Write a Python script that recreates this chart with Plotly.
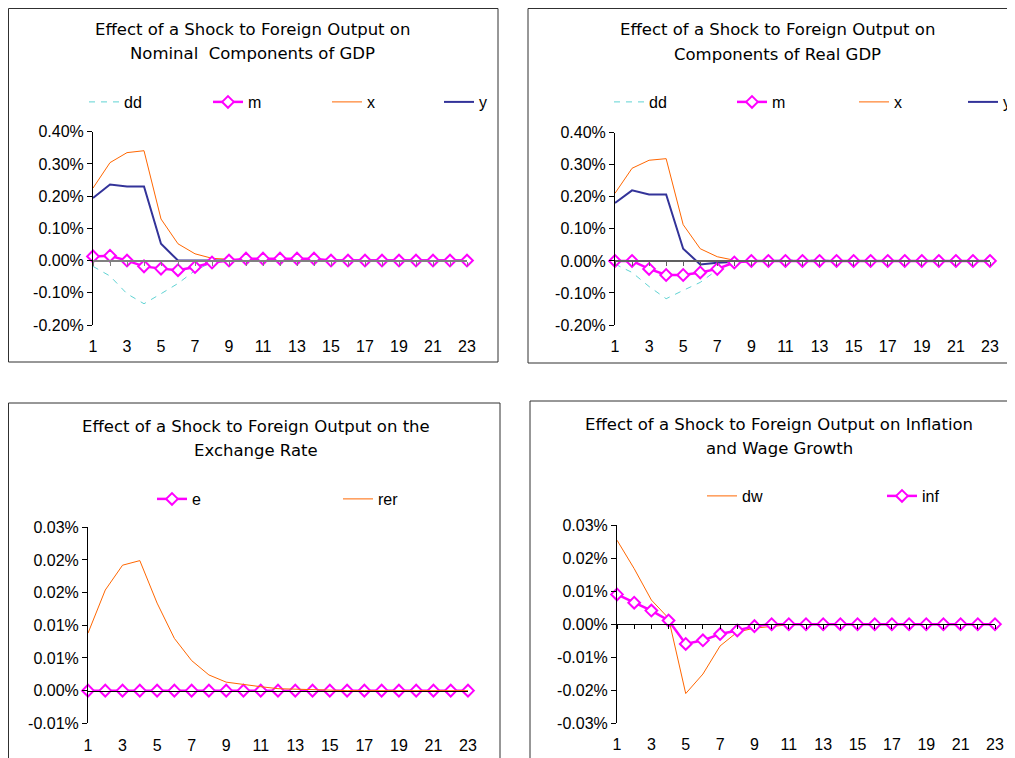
import plotly.graph_objects as go

# the page keeps an 8px body margin, so the figure is drawn 8px in from the window corner
PAGE_OFF = 8
W, H = 1015 - PAGE_OFF, 758 - PAGE_OFF

# periods after the shock
periods = list(range(1, 24))

# effect on nominal components of GDP (% deviation)
nom_dd = [-0.018, -0.048, -0.103, -0.134, -0.103, -0.071, -0.031, -0.005, 0.002, 0.004, 0.005, 0.005,
          0.005, 0.004, 0.002, 0.0, 0.0, 0.0, 0.0, 0.0, 0.0, 0.0, 0.0]
nom_m = [0.013, 0.015, 0.000, -0.018, -0.025, -0.030, -0.020, -0.006, 0.000, 0.006, 0.006, 0.006,
         0.006, 0.006, 0.0, 0.0, 0.0, 0.0, 0.0, 0.0, 0.0, 0.0, 0.0]
nom_x = [0.225, 0.304, 0.335, 0.341, 0.129, 0.052, 0.021, 0.007, 0.004, 0.002, 0.001, 0.0,
         0.0, 0.0, 0.0, 0.0, 0.0, 0.0, 0.0, 0.0, 0.0, 0.0, 0.0]
nom_y = [0.194, 0.236, 0.230, 0.230, 0.052, 0.0, 0.0, 0.0, 0.002, 0.001, 0.0, 0.0,
         0.0, 0.0, 0.0, 0.0, 0.0, 0.0, 0.0, 0.0, 0.0, 0.0, 0.0]

# effect on components of real GDP (% deviation)
real_dd = [-0.010, -0.036, -0.080, -0.118, -0.092, -0.067, -0.028, -0.005, 0.0, 0.002, 0.003, 0.003,
           0.002, 0.001, 0.0, 0.0, 0.0, 0.0, 0.0, 0.0, 0.0, 0.0, 0.0]
real_m = [0.0, 0.0, -0.025, -0.044, -0.044, -0.036, -0.025, -0.005, 0.0, 0.0, 0.0, 0.0,
          0.0, 0.0, 0.0, 0.0, 0.0, 0.0, 0.0, 0.0, 0.0, 0.0, 0.0]
real_x = [0.211, 0.289, 0.314, 0.319, 0.113, 0.038, 0.013, 0.002, 0.0, 0.0, 0.0, 0.0,
          0.0, 0.0, 0.0, 0.0, 0.0, 0.0, 0.0, 0.0, 0.0, 0.0, 0.0]
real_y = [0.181, 0.220, 0.207, 0.207, 0.038, -0.011, -0.006, -0.002, 0.0, 0.0, 0.0, 0.0,
          0.0, 0.0, 0.0, 0.0, 0.0, 0.0, 0.0, 0.0, 0.0, 0.0, 0.0]

# exchange rate
ex_e = [0.0, 0.0, 0.0, 0.0, 0.0, 0.0, 0.0, 0.0, 0.0, 0.0, 0.0, 0.0,
        0.0, 0.0, 0.0, 0.0, 0.0, 0.0, 0.0, 0.0, 0.0, 0.0, 0.0]
ex_rer = [0.0088, 0.0154, 0.0192, 0.0199, 0.0134, 0.0080, 0.0046, 0.0024, 0.0013, 0.0009, 0.0006, 0.0003,
          0.0002, 0.0002, 0.00005, 0.0, 0.0, 0.0, 0.0, 0.0, 0.0, 0.0, 0.0]

# inflation and wage growth
wg_dw = [0.0254, 0.0168, 0.0073, 0.0018, -0.0210, -0.0151, -0.0066, -0.0024, -0.0012, -0.0006, -0.0002, 0.0,
         0.0, 0.0, 0.0, 0.0, 0.0, 0.0, 0.0, 0.0, 0.0, 0.0, 0.0]
wg_inf = [0.0090, 0.0065, 0.0041, 0.0011, -0.0060, -0.0049, -0.0030, -0.0019, -0.0006, 0.0, 0.0, 0.0,
          0.0, 0.0, 0.0, 0.0, 0.0, 0.0, 0.0, 0.0, 0.0, 0.0, 0.0]

# axis ticks (Excel rounds the labels to two decimals)
gdp_ticks = [-0.2, -0.1, 0.0, 0.1, 0.2, 0.3, 0.4]
gdp_labels = ["-0.20%", "-0.10%", "0.00%", "0.10%", "0.20%", "0.30%", "0.40%"]
ex_ticks = [-0.005, 0.0, 0.005, 0.010, 0.015, 0.020, 0.025]
ex_labels = ["-0.01%", "0.00%", "0.01%", "0.01%", "0.02%", "0.02%", "0.03%"]
wg_ticks = [-0.03, -0.02, -0.01, 0.0, 0.01, 0.02, 0.03]
wg_labels = ["-0.03%", "-0.02%", "-0.01%", "0.00%", "0.01%", "0.02%", "0.03%"]
period_labels = [str(p) if p % 2 == 1 else "" for p in periods]

titles = [
    ("Effect of a Shock to Foreign Output on", "Nominal  Components of GDP"),
    ("Effect of a Shock to Foreign Output on", "Components of Real GDP"),
    ("Effect of a Shock to Foreign Output on the", "Exchange Rate"),
    ("Effect of a Shock to Foreign Output on Inflation", "and Wage Growth"),
]

FONT = "Liberation Sans, Arial, sans-serif"
TITLE_FONT = "DejaVu Sans, Liberation Sans, sans-serif"
MAGENTA = "#FF00FF"
ORANGE = "#FF6600"
NAVY = "#333399"
TEAL = "#5FD3D3"


# window pixel -> paper fraction
def px_x(v):
    return (v - PAGE_OFF) / W


def px_y(v):
    return 1 - (v - PAGE_OFF) / H


# panel layout in window pixels: plot box, y range, label row, frame, title
panels = [
    dict(x=(93, 467), y=(131.7, 325), rng=(-0.2, 0.4), ticks=gdp_ticks, labels=gdp_labels,
         label_y=346, zc="#808080", zw=2, tl=4, frame=(8.5, 8.5, 498, 362), title_c=252, title_y=(29, 53)),
    dict(x=(615, 990), y=(132.7, 325), rng=(-0.2, 0.4), ticks=gdp_ticks, labels=gdp_labels,
         label_y=346, zc="#606060", zw=2, tl=4, frame=(528, 8.5, 1030, 363), title_c=777, title_y=(30, 54)),
    dict(x=(88, 468), y=(527.3, 723.3), rng=(-0.005, 0.025), ticks=ex_ticks, labels=ex_labels,
         label_y=745, zc="#000000", zw=1, tl=0, frame=(8.5, 403, 500, 780), title_c=256, title_y=(426, 450)),
    dict(x=(617, 995), y=(525, 723.3), rng=(-0.03, 0.03), ticks=wg_ticks, labels=wg_labels,
         label_y=745, zc="#000000", zw=1, tl=4, frame=(530, 401, 1030, 780), title_c=779, title_y=(424, 448)),
]

# one legend per entry so each sits where Excel put it: (text left px, row centre px)
legend_spots = {
    (1, "dd"): (125, 102), (1, "m"): (249, 102), (1, "x"): (368, 102), (1, "y"): (480, 102),
    (2, "dd"): (650, 102), (2, "m"): (773, 102), (2, "x"): (895, 102), (2, "y"): (1004, 102),
    (3, "e"): (193, 499), (3, "rer"): (379, 499),
    (4, "dw"): (743, 496), (4, "inf"): (923, 496),
}
legend_ids = {}
for n, key in enumerate(legend_spots, start=1):
    legend_ids[key] = "legend" if n == 1 else f"legend{n}"


def line_trace(name, vals, i, color, width, dash=None):
    return go.Scatter(x=periods, y=vals, name=name, mode="lines", xaxis=f"x{i}", yaxis=f"y{i}",
                      line=dict(color=color, width=width, dash=dash), legend=legend_ids[(i, name)],
                      cliponaxis=False)


def marker_trace(name, vals, i):
    return go.Scatter(x=periods, y=vals, name=name, mode="lines+markers", xaxis=f"x{i}", yaxis=f"y{i}",
                      line=dict(color=MAGENTA, width=2.5),
                      marker=dict(symbol="diamond", size=9, color="white", line=dict(color=MAGENTA, width=2)),
                      legend=legend_ids[(i, name)], cliponaxis=False)


fig = go.Figure()

# 1. nominal GDP components
fig.add_trace(line_trace("dd", nom_dd, 1, TEAL, 1, "6px,6px"))
fig.add_trace(line_trace("x", nom_x, 1, ORANGE, 1))
fig.add_trace(line_trace("y", nom_y, 1, NAVY, 2))
fig.add_trace(marker_trace("m", nom_m, 1))

# 2. real GDP components
fig.add_trace(line_trace("dd", real_dd, 2, TEAL, 1, "6px,6px"))
fig.add_trace(line_trace("x", real_x, 2, ORANGE, 1))
fig.add_trace(line_trace("y", real_y, 2, NAVY, 2))
fig.add_trace(marker_trace("m", real_m, 2))

# 3. exchange rate
fig.add_trace(marker_trace("e", ex_e, 3))
fig.add_trace(line_trace("rer", ex_rer, 3, ORANGE, 1))

# 4. inflation and wage growth
fig.add_trace(line_trace("dw", wg_dw, 4, ORANGE, 1))
fig.add_trace(marker_trace("inf", wg_inf, 4))

layout = dict(
    width=W, height=H, margin=dict(l=0, r=0, t=0, b=0, autoexpand=False),
    paper_bgcolor="white", plot_bgcolor="white", showlegend=True,
    font=dict(family=FONT, size=16, color="black"),
)

shapes = []
annotations = []
for k, p in enumerate(panels, start=1):
    y0, y1 = px_y(p["y"][1]), px_y(p["y"][0])
    lo, hi = p["rng"]
    zero_px = p["y"][1] - (0 - lo) / (hi - lo) * (p["y"][1] - p["y"][0])
    layout[f"xaxis{k}"] = dict(
        domain=[px_x(p["x"][0]), px_x(p["x"][1])], range=[1, 23], anchor="free",
        position=px_y(zero_px), showline=True, linecolor=p["zc"], linewidth=p["zw"],
        ticks="outside", ticklen=p["tl"], tickcolor=p["zc"], tickwidth=1,
        tickvals=periods, ticktext=period_labels, tickfont=dict(size=16),
        ticklabelstandoff=int(p["label_y"] - zero_px - 14 - p["tl"]),
        showgrid=False, zeroline=False, fixedrange=True, automargin=False,
    )
    layout[f"yaxis{k}"] = dict(
        domain=[y0, y1], range=[lo, hi], anchor=f"x{k}", showline=True, linecolor="black",
        linewidth=1, ticks="outside", ticklen=5, tickcolor="black", tickvals=p["ticks"],
        ticktext=p["labels"], tickfont=dict(size=16), showgrid=False, zeroline=False,
        fixedrange=True, automargin=False,
    )
    fx0, fy0, fx1, fy1 = p["frame"]
    shapes.append(dict(type="rect", xref="paper", yref="paper", x0=px_x(fx0), x1=px_x(fx1),
                       y0=px_y(fy1), y1=px_y(fy0), line=dict(color="#303030", width=1),
                       fillcolor="rgba(0,0,0,0)"))
    for text, ty in zip(titles[k - 1], p["title_y"]):
        annotations.append(dict(text=text, x=px_x(p["title_c"]), y=px_y(ty), xref="paper", yref="paper",
                                xanchor="center", yanchor="middle", showarrow=False,
                                font=dict(family=TITLE_FONT, size=16.5, color="black")))

for key, (tx, ty) in legend_spots.items():
    layout[legend_ids[key]] = dict(x=px_x(tx - 41), y=px_y(ty), xanchor="left", yanchor="middle",
                                   orientation="h", xref="paper", yref="paper",
                                   bgcolor="rgba(0,0,0,0)", borderwidth=0, itemwidth=30,
                                   font=dict(size=16, color="black"))

layout["shapes"] = shapes
layout["annotations"] = annotations
fig.update_layout(**layout)

fig.write_html("out.html")
